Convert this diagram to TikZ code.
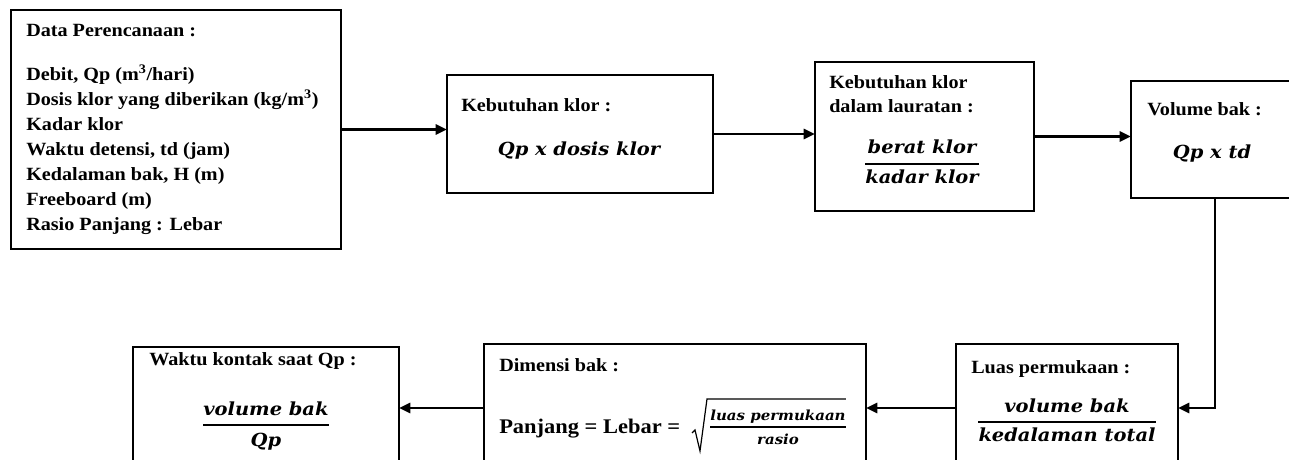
\documentclass[tikz,border=0pt]{standalone}
\usepackage{fontspec}
\setmainfont{Liberation Serif}[FakeStretch=1.08]
\newfontfamily\fm{DejaVu Serif}[FakeStretch=1.08]
\usetikzlibrary{arrows.meta,fit}

\tikzset{
  box/.style={draw, line width=1.1pt, inner sep=0pt, outer sep=0pt},
  arr/.style={line width=2pt, -{Triangle[length=8.5pt,width=7.5pt]}},
  lbl/.style={anchor=base west, inner sep=0pt, font=\fontsize{14}{16}\selectfont\bfseries},
  big/.style={lbl, font=\fontsize{15.6}{18}\selectfont\bfseries},
  eq/.style={anchor=base, inner sep=0pt, font=\fontsize{13.5}{15}\selectfont\fm\bfseries\itshape},
  eqs/.style={anchor=base, inner sep=0pt, font=\fontsize{10.4}{12}\selectfont\fm\bfseries\itshape},
  bar/.style={line width=0.8pt},
}

\begin{document}
\begin{tikzpicture}[x=0.75pt, y=-0.75pt]
  \useasboundingbox (0,0) rectangle (1289,460);
  \fill[white] (0,0) rectangle (1289,460);
  \clip (0,0) rectangle (1289,460);

  % boxes
  \node[box, fit={(11,10) (341,249)}]   (b1) {};
  \node[box, fit={(447,75) (713,193)}]  (b2) {};
  \node[box, fit={(815,62) (1034,211)}] (b3) {};
  \node[box, fit={(1131,81) (1299,198)}] (b4) {};
  \node[box, fit={(956,344) (1178,472)}] (b5) {};
  \node[box, fit={(484,344) (866,472)}]  (b6) {};
  \node[box, fit={(133,347) (399,467)}]  (b7) {};

  % planning data
  \node[lbl] (t1) at (26,37) {Data Perencanaan :};
  \foreach \t [count=\i] in {
      {Debit, Qp (m\textsuperscript{3}/hari)},
      {Dosis klor yang diberikan (kg/m\textsuperscript{3})},
      {Kadar klor},
      {Waktu detensi, td (jam)},
      {Kedalaman bak, H (m)},
      {Freeboard (m)},
      {Rasio Panjang : Lebar}}
    \node[lbl] (l\i) at (26,{55+25*\i}) {\t};

  % chlorine demand
  \node[lbl] (t2) at (461,112) {Kebutuhan klor :};
  \node[eq]  (f2) at (579,155) {Qp x dosis klor};

  % chlorine in solution
  \node[lbl] (t3a) at (829,89)  {Kebutuhan klor};
  \node[lbl] (t3b) at (829,113) {dalam lauratan :};
  \node[eq]  (n3) at (922,153) {berat klor};
  \node[eq]  (d3) at (922,183) {kadar klor};
  \draw[bar] (d3.west |- 0,164) -- (d3.east |- 0,164);

  % tank volume
  \node[lbl] (t4) at (1147,115) {Volume bak :};
  \node[eq]  (f4) at (1212,158) {Qp x td};

  % surface area
  \node[lbl] (t5) at (971,373) {Luas permukaan :};
  \node[eq]  (n5) at (1067,412) {volume bak};
  \node[eq]  (d5) at (1067,441) {kedalaman total};
  \draw[bar] (d5.west |- 0,422) -- (d5.east |- 0,422);

  % tank dimensions
  \node[lbl] (t6) at (499,371) {Dimensi bak :};
  \node[big] (p6) at (499,433) {Panjang = Lebar =};
  \node[eqs] (n6) at (778,420) {luas permukaan};
  \node[eqs] (d6) at (778,444) {rasio};
  \draw[bar] (n6.west |- 0,427) -- (n6.east |- 0,427);
  \draw[line width=0.9pt, line join=miter]
    (692,433) -- (695,430) -- (700,451) -- (707,399) -- (n6.east |- 0,399);

  % contact time
  \node[lbl] (t7) at (149,365) {Waktu kontak saat Qp :};
  \node[eq]  (n7) at (266,415) {volume bak};
  \node[eq]  (d7) at (266,446) {Qp};
  \draw[bar] (n7.west |- 0,425) -- (n7.east |- 0,425);

  % flow
  \draw[arr] (b1.east) -- (b1.east -| b2.west);
  \draw[arr] (b2.east) -- (b2.east -| b3.west);
  \draw[arr] (b3.east) -- (b3.east -| b4.west);
  \draw[arr] (b4.south) |- (b5.east);
  \draw[arr] (b5.west) -- (b6.east);
  \draw[arr] (b6.west) -- (b6.west -| b7.east);
\end{tikzpicture}
\end{document}
